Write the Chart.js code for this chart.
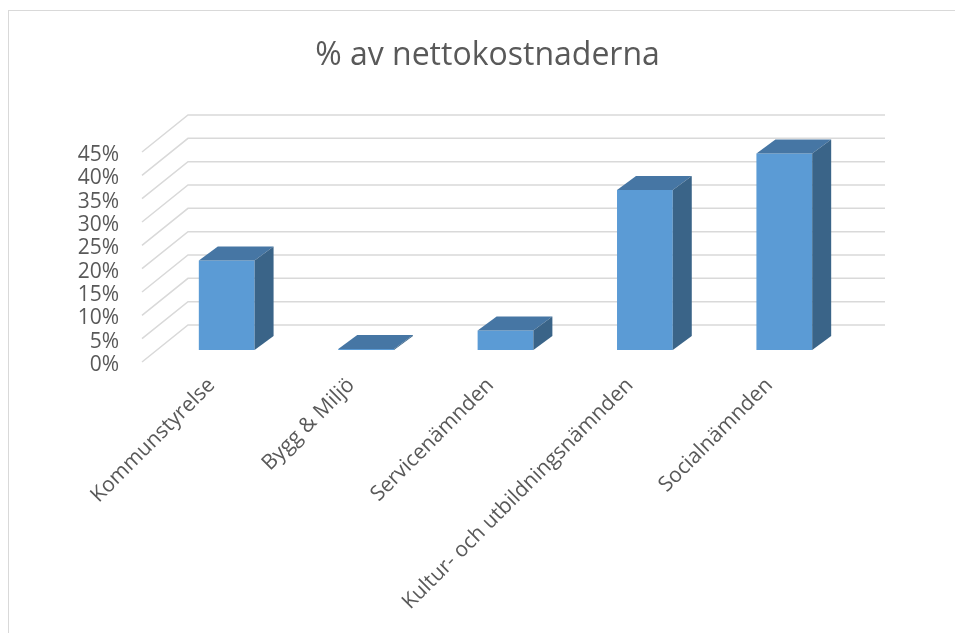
<!DOCTYPE html>
<html>
<head>
<meta charset="utf-8">
<script src="https://cdn.jsdelivr.net/npm/chart.js@4/dist/chart.umd.min.js"></script>
<style>
  html, body { margin: 0; padding: 0; background: #fff; overflow: hidden; }
  #frame { position: absolute; left: 8px; top: 10px; width: 1000px; height: 700px; border: 1px solid #D9D9D9; }
  #wrap { position: absolute; left: 0; top: 0; width: 955px; height: 633px; }
</style>
</head>
<body>
<div id="frame"></div>
<div id="wrap"><canvas id="c" width="955" height="633"></canvas></div>
<script>
const categories = ['Kommunstyrelse', 'Bygg & Miljö', 'Servicenämnden', 'Kultur- och utbildningsnämnden', 'Socialnämnden'];
const shareValues = [19.2, 0.2, 4.2, 34.3, 42.1];
const yTickValues = [0, 5, 10, 15, 20, 25, 30, 35, 40, 45];
const titleText = '% av nettokostnaderna';

const FRONT = '#5B9BD5', TOP = '#4676A4', SIDE = '#3A6488', GRID = '#D9D9D9', TXT = '#595959';
const WALL_DX = 46, WALL_DY = -37;     // perspective depth of the wall
const BAR_DX = 15, BAR_DY = -12;       // position of bar plane
const SIDE_DX = 19, SIDE_DY = -14;     // bar depth

const threeD = {
  id: 'threeD',
  beforeDatasetsDraw(chart) {
    const ctx = chart.ctx, y = chart.scales.y, area = chart.chartArea;
    ctx.save();
    ctx.strokeStyle = GRID;
    ctx.lineWidth = 1.5;
    yTickValues.forEach(v => {
      const py = y.getPixelForValue(v);
      ctx.beginPath();
      ctx.moveTo(area.left, py);
      ctx.lineTo(area.left + WALL_DX, py + WALL_DY);
      ctx.lineTo(area.right + WALL_DX, py + WALL_DY);
      ctx.stroke();
    });
    ctx.restore();
    ctx.save();
    ctx.translate(BAR_DX, BAR_DY);
  },
  afterDatasetsDraw(chart) {
    const ctx = chart.ctx;
    const meta = chart.getDatasetMeta(0);
    meta.data.forEach(bar => {
      const p = bar.getProps(['x', 'y', 'base', 'width'], true);
      const l = p.x - p.width / 2, r = p.x + p.width / 2, t = p.y, b = p.base;
      ctx.fillStyle = TOP;
      ctx.beginPath();
      ctx.moveTo(l, t); ctx.lineTo(r, t); ctx.lineTo(r + SIDE_DX, t + SIDE_DY); ctx.lineTo(l + SIDE_DX, t + SIDE_DY);
      ctx.closePath(); ctx.fill();
      ctx.fillStyle = SIDE;
      ctx.beginPath();
      ctx.moveTo(r, t); ctx.lineTo(r + SIDE_DX, t + SIDE_DY); ctx.lineTo(r + SIDE_DX, b + SIDE_DY); ctx.lineTo(r, b);
      ctx.closePath(); ctx.fill();
    });
    ctx.restore();
  }
};

new Chart(document.getElementById('c'), {
  type: 'bar',
  data: {
    labels: categories,
    datasets: [{
      data: shareValues,
      backgroundColor: FRONT,
      borderWidth: 0,
      barPercentage: 0.4,
      categoryPercentage: 1.0,
      clip: false
    }]
  },
  options: {
    responsive: false,
    animation: false,
    layout: { padding: { left: 20, right: 0, top: 0, bottom: 0 } },
    plugins: {
      legend: { display: false },
      tooltip: { enabled: false },
      title: {
        display: true,
        text: titleText,
        color: TXT,
        font: { family: 'Open Sans', size: 32, weight: 'normal', lineHeight: 1.2 },
        padding: { top: 37, bottom: 76.6 }
      }
    },
    scales: {
      x: {
        grid: { display: false, drawTicks: false },
        border: { display: false },
        ticks: {
          color: TXT,
          font: { family: 'Open Sans', size: 21 },
          minRotation: 45, maxRotation: 45,
          autoSkip: false,
          padding: 11
        },
        afterFit(s) { s.height = 271; }
      },
      y: {
        min: 0, max: 45,
        grid: { display: false, drawTicks: false },
        border: { display: false },
        ticks: {
          stepSize: 5,
          autoSkip: false,
          color: TXT,
          font: { family: 'Open Sans', size: 21 },
          padding: 23,
          labelOffset: 3,
          callback: v => v + '%'
        },
        afterFit(s) { s.width = 122; }
      },
      yRight: {
        type: 'linear',
        position: 'right',
        display: true,
        grid: { display: false, drawTicks: false },
        border: { display: false },
        ticks: { display: false },
        afterFit(s) { s.width = 116; }
      }
    }
  },
  plugins: [threeD]
});
</script>
</body>
</html>
